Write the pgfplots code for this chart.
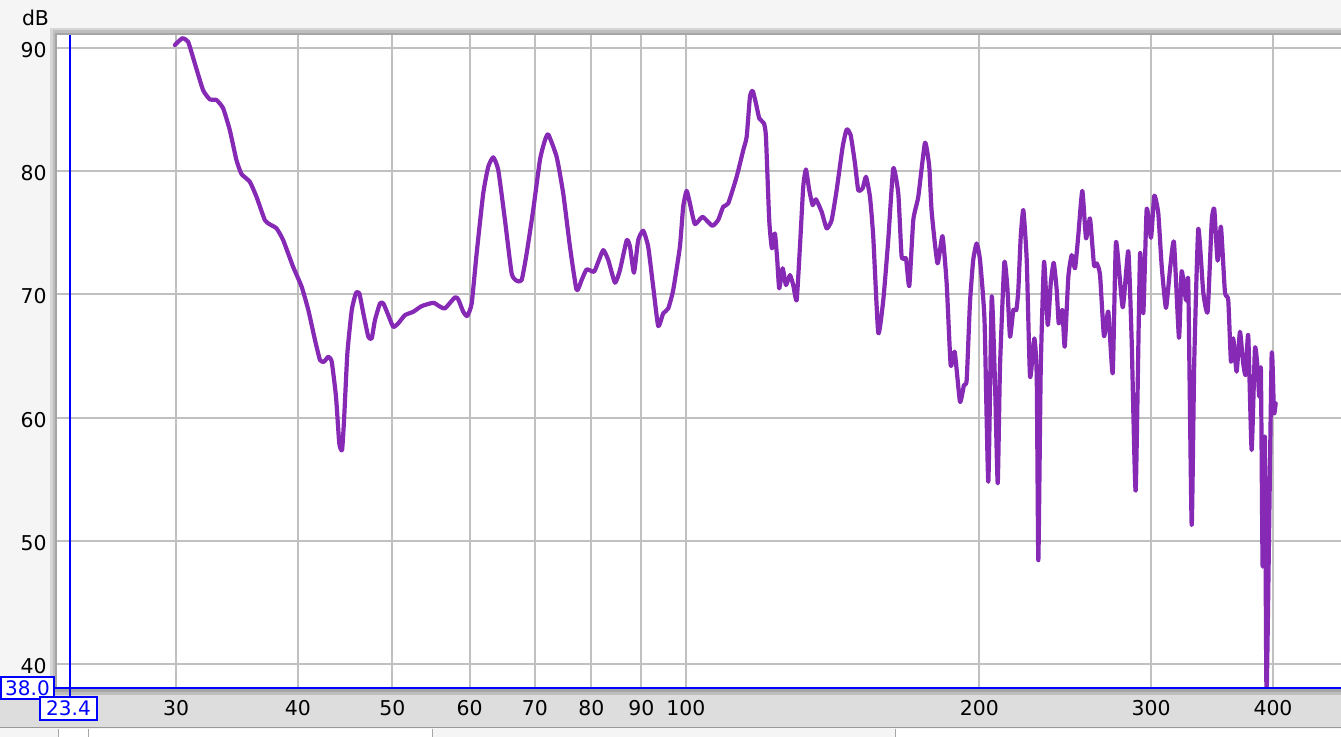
\documentclass[border=0pt]{standalone}
\usepackage{fontspec}
\setmainfont{DejaVu Sans}
\usepackage{pgfplots}
\usepackage{pgfplotstable}
\pgfplotsset{compat=1.18}
\definecolor{curve}{RGB}{134,42,182}
\definecolor{gridc}{RGB}{192,192,192}
\definecolor{panel}{RGB}{245,245,245}
\definecolor{band}{RGB}{221,221,221}
\definecolor{rewblue}{RGB}{0,0,255}
\definecolor{bevA}{RGB}{214,214,214}
\definecolor{bevB}{RGB}{190,190,190}
\definecolor{bevC}{RGB}{166,166,166}

\pgfplotstableread{
f db
29.92 90.24
30.44 90.79
30.87 90.51
31.36 88.76
31.98 86.59
32.49 85.84
33.01 85.78
33.53 85.11
34.06 83.34
34.60 80.91
35.02 79.77
35.71 79.15
36.28 77.93
37.00 76.04
37.44 75.69
38.04 75.36
38.64 74.41
39.56 72.25
40.36 70.62
41.00 68.73
41.65 66.30
42.15 64.67
42.55 64.54
42.98 64.94
43.33 64.54
43.77 61.70
44.11 57.91
44.40 57.37
44.61 59.80
44.96 65.22
45.43 68.73
45.89 70.13
46.25 70.08
46.69 68.46
47.24 66.56
47.62 66.43
47.99 67.92
48.56 69.27
48.94 69.27
49.52 68.32
50.10 67.37
50.70 67.65
51.51 68.32
52.53 68.59
53.58 69.05
55.07 69.32
55.85 69.05
56.61 68.87
57.96 69.76
58.42 69.60
59.11 68.59
59.67 68.24
60.30 69.27
61.01 73.33
61.97 78.20
62.71 80.36
63.45 81.13
64.21 80.09
65.23 76.04
66.27 71.71
67.06 71.11
67.85 71.16
68.66 73.33
69.73 76.85
70.85 80.91
71.60 82.37
72.25 83.00
73.70 81.17
74.86 78.20
76.06 73.87
77.27 70.35
78.18 71.16
79.11 72.03
80.49 71.84
81.31 72.65
82.27 73.60
83.25 72.79
84.58 70.95
85.58 71.98
86.96 74.41
87.64 73.87
88.46 71.76
89.35 74.41
90.42 75.17
91.48 73.87
92.57 70.62
93.67 67.43
94.78 68.46
95.91 68.86
97.04 70.35
98.59 73.87
99.36 77.12
100.17 78.41
100.95 77.39
102.15 75.71
104.02 76.30
106.41 75.57
107.92 76.04
109.21 77.12
110.51 77.39
112.73 79.55
114.51 81.72
115.43 82.80
116.33 86.05
117.08 86.53
117.99 85.51
118.92 84.29
120.23 83.89
120.80 82.80
121.74 76.04
122.52 73.74
123.39 74.95
124.07 72.79
124.65 70.49
125.66 72.12
126.64 70.76
127.85 71.57
128.85 70.76
129.89 69.54
130.90 73.87
131.93 78.74
132.77 80.15
133.81 78.47
134.89 77.25
135.94 77.72
137.79 76.71
139.43 75.36
141.09 76.04
142.76 78.47
144.80 81.99
146.18 83.40
147.56 82.94
149.07 80.64
150.23 78.47
151.80 78.61
152.99 79.55
154.44 77.93
155.65 74.68
157.50 66.88
159.37 69.54
161.26 74.41
163.18 80.23
165.12 78.20
166.45 73.06
168.15 72.93
169.47 70.68
171.08 76.04
173.11 77.93
175.88 82.31
177.67 80.36
178.69 76.68
181.15 72.52
183.30 74.74
185.12 70.90
186.88 64.26
188.65 65.35
191.03 61.29
192.84 62.64
194.08 63.05
195.59 69.30
197.12 72.79
198.71 74.14
200.27 72.79
202.41 67.92
204.23 54.79
205.88 69.81
207.49 62.78
208.82 54.66
209.95 64.12
212.10 72.57
213.61 70.62
214.98 66.56
216.66 68.73
218.20 68.73
219.23 70.35
220.48 74.68
221.84 76.85
223.63 72.79
225.38 63.31
227.68 66.43
228.97 63.31
229.84 48.43
231.14 63.85
232.96 72.65
235.00 67.51
236.67 70.90
238.35 72.57
240.04 70.35
241.18 67.65
243.24 68.73
244.62 65.75
246.71 71.43
248.70 73.19
250.64 72.12
252.60 74.82
254.99 78.41
257.23 74.55
259.67 76.17
262.14 72.38
263.81 72.52
265.87 71.61
268.39 66.61
271.13 68.61
273.97 63.62
276.11 74.25
280.51 68.95
284.24 73.51
286.53 66.18
289.25 54.07
292.21 73.23
294.50 68.47
296.86 76.93
299.89 74.59
302.24 78.02
305.11 76.59
307.57 72.31
310.71 68.90
313.66 72.03
316.61 74.25
320.37 66.48
322.42 71.89
325.71 69.52
327.49 70.95
330.13 51.28
332.16 64.62
335.31 75.31
339.29 70.18
342.84 68.61
346.09 75.88
348.22 76.93
351.02 72.74
353.77 75.51
357.12 70.18
359.92 69.55
362.22 64.54
364.19 66.44
367.13 63.73
370.00 66.97
372.89 64.41
375.01 63.46
377.32 66.70
380.36 57.37
383.34 65.62
385.79 64.00
387.25 61.70
388.80 63.86
390.37 47.90
392.50 58.45
394.07 37.50
398.76 64.94
400.93 60.35
402.54 61.16
}\resp

\begin{document}
\begin{tikzpicture}
\useasboundingbox (0,0) rectangle (670.5pt,-368.5pt);
% background and frame, in pixel units
\begin{scope}[x=0.5pt,y=-0.5pt]
  \fill[panel] (0,0) rectangle (1341,737);
  \fill[band] (0,689) rectangle (1341,728);
  \draw[black!40, line width=0.5pt] (0,728) -- (1341,728);
  \fill[white] (58,729) rectangle (1341,737);
  \fill[black!4] (432,729) rectangle (895,737);
  \draw[black!35, line width=0.5pt] (58,729) -- (58,737) (88,729) -- (88,737) (432,729) -- (432,737) (895,729) -- (895,737);
  % bevel top and left
  \fill[bevA] (50,28) rectangle (1341,30.5);
  \fill[bevB] (52.5,30.5) rectangle (1341,33);
  \fill[bevC] (55,33) rectangle (1341,35);
  \fill[bevA] (50,28) rectangle (52.5,695);
  \fill[bevB] (52.5,30.5) rectangle (55,695);
  \fill[bevC] (55,33) rectangle (57,695);
  % bevel bottom
  \fill[bevC] (50,689) rectangle (1341,692);
  \fill[bevB] (50,692) rectangle (1341,695);
  \node[font=\fontsize{10.2}{12}\selectfont, inner sep=0pt] at (35.5,18) {dB};
\end{scope}

\begin{axis}[
  at={(28.5pt,-344.5pt)}, anchor=south west,
  scale only axis, width=642pt, height=327pt,
  xmode=log, xmin=22.65, xmax=469.7, ymin=37.97, ymax=91.06,
  axis background/.style={fill=white},
  axis line style={draw=none},
  xtick={30,40,50,60,70,80,90,100,200,300,400},
  xticklabels={30,40,50,60,70,80,90,100,200,300,400},
  ytick={40,50,60,70,80,90},
  yticklabels={40,50,60,70,80,90},
  major tick length=0pt, minor tick length=0pt,
  grid=major, major grid style={gridc, line width=1pt},
  tick label style={font=\fontsize{10.2}{12}\selectfont},
  xticklabel style={anchor=base, inner sep=0pt, yshift=-13.5pt},
  yticklabel style={anchor=east, inner sep=0pt, xshift=-5pt, yshift=-1pt},
  clip=true,
]
\addplot[curve, line width=2.1pt, line join=round, line cap=round, smooth, tension=0.3] table[x=f, y=db] {\resp};
\end{axis}

% cursor lines and value boxes
\begin{scope}[x=0.5pt,y=-0.5pt]
  \draw[rewblue, line width=1pt] (70,35) -- (70,696);
  \draw[rewblue, line width=1pt] (53,688) -- (1341,688);
  \draw[rewblue, line width=1pt, fill=white] (0.5,677) rectangle (54,699);
  \node[rewblue, font=\fontsize{10}{12}\selectfont, inner sep=0pt] at (27.5,688) {38.0};
  \draw[rewblue, line width=1pt, fill=white] (40,697) rectangle (97,720);
  \node[rewblue, font=\fontsize{10}{12}\selectfont, inner sep=0pt] at (68.5,708.5) {23.4};
\end{scope}
\end{tikzpicture}
\end{document}
